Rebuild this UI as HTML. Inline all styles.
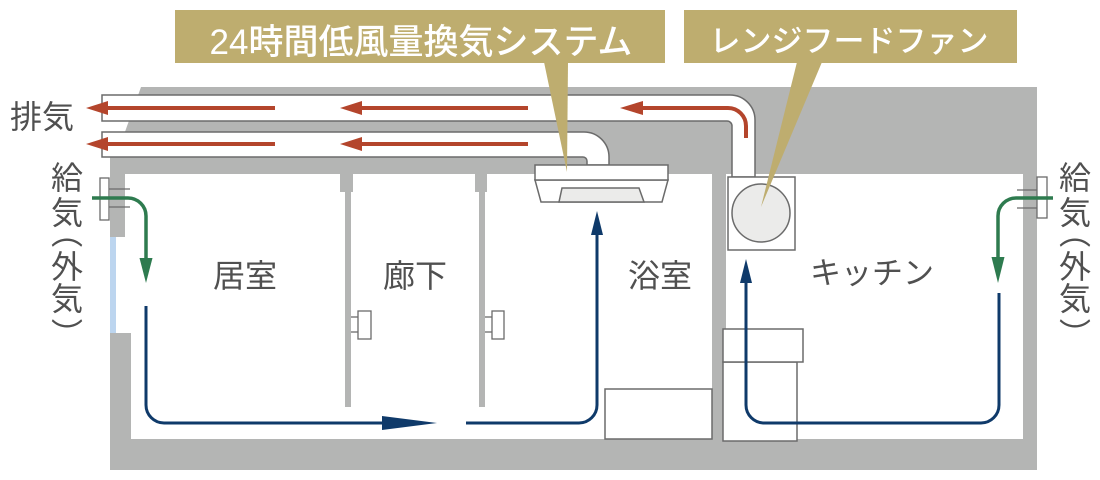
<!DOCTYPE html>
<html><head><meta charset="utf-8"><style>
html,body{margin:0;padding:0;background:#fff;}
body{width:1100px;height:480px;position:relative;overflow:hidden;}
svg{position:absolute;left:0;top:0;}
.v{position:absolute;writing-mode:vertical-rl;font-family:"Liberation Sans","Noto Sans CJK JP",sans-serif;font-size:32px;line-height:32px;width:32px;height:32px;color:#505050;white-space:nowrap;}
</style></head><body>
<svg width="1100" height="480" viewBox="0 0 1100 480" xmlns="http://www.w3.org/2000/svg">
<!-- structure -->
<polygon points="141,87 1037,87 1037,470 110,470 110,157 116,157" fill="#b4b5b4"/>
<rect x="125" y="174" width="898" height="265" fill="#fff"/>
<rect x="110" y="237" width="6" height="96" fill="#bcd5ef"/>
<rect x="116" y="237" width="9" height="96" fill="#fff"/>
<rect x="110" y="333" width="21" height="106" fill="#b4b5b4"/>
<!-- partitions -->
<rect x="340" y="174" width="13" height="18" fill="#b4b5b4"/>
<rect x="345" y="190" width="6" height="217" fill="#b4b5b4"/>
<rect x="475" y="174" width="12" height="18" fill="#b4b5b4"/>
<rect x="479" y="190" width="6" height="217" fill="#b4b5b4"/>
<rect x="712" y="170" width="14" height="270" fill="#b4b5b4"/>
<!-- door handles -->
<g fill="#fff" stroke="#6b6b6b" stroke-width="1.3">
<line x1="351" y1="317" x2="358" y2="317"/><line x1="351" y1="332" x2="358" y2="332"/>
<rect x="358" y="311" width="13" height="28"/>
<line x1="485" y1="317" x2="492" y2="317"/><line x1="485" y1="332" x2="492" y2="332"/>
<rect x="492" y="311" width="12" height="28"/>
</g>
<!-- ducts -->
<g fill="#fff" stroke="#6b6b6b" stroke-width="1.5">
<path d="M102,95 H730 A25,25 0 0 1 755,120 V177 H732 V126 A5,5 0 0 0 727,121 H102 Z"/>
<path d="M102,132 H584 A25,25 0 0 1 609,157 V165 H587 V161 A4,4 0 0 0 583,157 H102 Z"/>
</g>
<!-- red arrows -->
<g stroke="#b4452c" stroke-width="4" fill="none">
<line x1="105" y1="108" x2="275" y2="108"/>
<line x1="359" y1="108" x2="528" y2="108"/>
<line x1="105" y1="144" x2="275" y2="144"/>
<line x1="359" y1="144" x2="528" y2="144"/>
<path d="M640,108 H728 A18,18 0 0 1 746,126 V138"/>
</g>
<g fill="#b4452c">
<polygon points="86,108 108,101 108,115"/>
<polygon points="340,108 362,101 362,115"/>
<polygon points="86,144 108,137 108,151"/>
<polygon points="340,144 362,137 362,151"/>
<polygon points="620,108 643,101 643,115"/>
</g>
<!-- ventilation unit -->
<g stroke="#6b6b6b" stroke-width="1.5">
<polygon points="535,180 668,180 662,202 541,202" fill="#fff"/>
<rect x="535" y="165" width="133" height="15" fill="#fff"/>
<polygon points="562,188 639,188 644,202 559,202" fill="#ebebea"/>
</g>
<!-- hood fan -->
<g stroke="#6b6b6b" stroke-width="1.5">
<rect x="728" y="177" width="67" height="73" fill="#fff"/>
<circle cx="761" cy="213" r="29" fill="#ebebea"/>
</g>
<!-- bath tub & kitchen counter -->
<g stroke="#6b6b6b" stroke-width="1.5" fill="#fff">
<rect x="605" y="389" width="107" height="50"/>
<rect x="723" y="362" width="74" height="79"/>
<rect x="723" y="329" width="80" height="33"/>
</g>
<!-- vents -->
<g stroke="#6b6b6b" stroke-width="1.3" fill="#fff">
<line x1="109" y1="189" x2="130" y2="189"/><line x1="109" y1="207" x2="130" y2="207"/>
<rect x="100" y="178" width="9" height="42"/>
<line x1="1017" y1="190" x2="1037" y2="190"/><line x1="1017" y1="208" x2="1037" y2="208"/>
<rect x="1037" y="177" width="10" height="41"/>
</g>
<!-- green arrows -->
<g stroke="#2e7b4f" stroke-width="3.5" fill="none">
<path d="M92,198 H128 A18,18 0 0 1 146,216 V262"/>
<path d="M1053,198 H1016 A18,18 0 0 0 998,216 V262"/>
</g>
<g fill="#2e7b4f">
<polygon points="139.5,258 152.5,258 146,283"/>
<polygon points="991.5,257 1004.5,257 998,283"/>
</g>
<!-- navy arrows -->
<g stroke="#0f3a6a" stroke-width="3" fill="none">
<path d="M146,306 V405 A18,18 0 0 0 164,423 H386"/>
<path d="M466,423 H579 A18,18 0 0 0 597,405 V233"/>
<path d="M746,281 V405 A18,18 0 0 0 764,423 H981 A18,18 0 0 0 999,405 V293"/>
</g>
<g fill="#0f3a6a">
<polygon points="382,416 437,423 382,430"/>
<polygon points="591,235 603,235 597,211"/>
<polygon points="740,283 752,283 746,259"/>
</g>
<!-- banners -->
<g fill="#bead6f">
<rect x="175" y="10" width="490" height="53"/>
<polygon points="544,62 568,62 567,172"/>
<rect x="684" y="10" width="333" height="53"/>
<polygon points="797,62 822,62 761,207"/>
</g>
<g font-family="Liberation Sans, Noto Sans CJK JP, sans-serif">
<text x="421" y="54" font-size="35" fill="#fff" text-anchor="middle" font-weight="500">24時間低風量換気システム</text>
<text x="849" y="52" font-size="31" fill="#fff" text-anchor="middle" font-weight="500">レンジフードファン</text>
<g fill="#505050" font-size="32" text-anchor="middle">
<text x="42" y="128">排気</text>
<text x="245" y="287">居室</text>
<text x="415" y="287">廊下</text>
<text x="660" y="287">浴室</text>
<text x="872" y="284" font-size="31">キッチン</text>
</g>
</g>
</svg>
<div class="v" style="left:49px;top:161px;">給</div>
<div class="v" style="left:49px;top:196px;">気</div>
<div class="v" style="left:49px;top:216px;">（</div>
<div class="v" style="left:49px;top:250px;">外</div>
<div class="v" style="left:49px;top:282px;">気</div>
<div class="v" style="left:49px;top:318px;">）</div>
<div class="v" style="left:1057px;top:161px;">給</div>
<div class="v" style="left:1057px;top:196px;">気</div>
<div class="v" style="left:1057px;top:216px;">（</div>
<div class="v" style="left:1057px;top:250px;">外</div>
<div class="v" style="left:1057px;top:282px;">気</div>
<div class="v" style="left:1057px;top:318px;">）</div>
</body></html>
